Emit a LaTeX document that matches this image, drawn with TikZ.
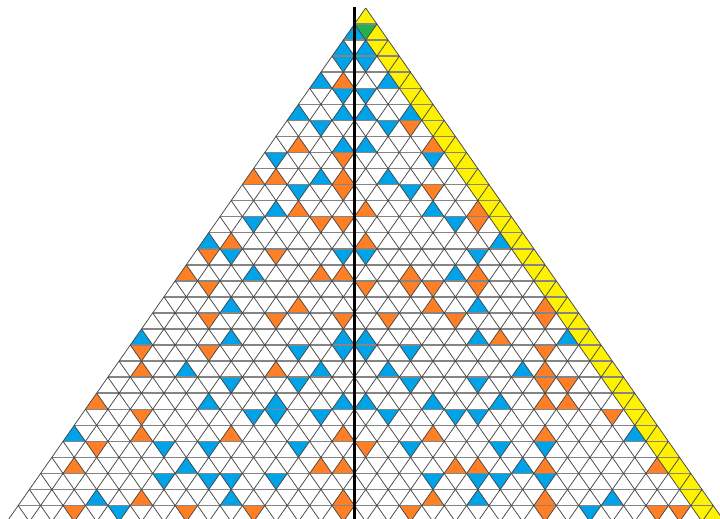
\documentclass[tikz,border=0pt]{standalone}
\definecolor{pblue}{HTML}{00A2E8}
\definecolor{porange}{HTML}{FF7F27}
\definecolor{pyellow}{HTML}{FFF200}
\definecolor{pgreen}{HTML}{22B14C}
\def\Xo{365.7}\def\Yo{8}\def\hw{11.21}\def\hh{16.05}
\newcommand\cellfill[3]{%
  \pgfmathsetmacro\Ccx{\Xo+\hw*(#2)}%
  \pgfmathsetmacro\Cyt{\Yo+\hh*((#1)-1)}%
  \pgfmathsetmacro\Cyb{\Yo+\hh*(#1)}%
  \pgfmathtruncatemacro\Corient{mod((#2)-(#1)+101,2)}%
  \ifnum\Corient=0
    \fill[#3] (\Ccx,\Cyt) -- ({\Ccx-\hw},\Cyb) -- ({\Ccx+\hw},\Cyb) -- cycle;
  \else
    \fill[#3] ({\Ccx-\hw},\Cyt) -- ({\Ccx+\hw},\Cyt) -- (\Ccx,\Cyb) -- cycle;
  \fi}
\newcommand\primefill[2]{%
  \pgfmathtruncatemacro\PCr{ceil(sqrt(#1))}%
  \pgfmathtruncatemacro\PCp{(#1)-(\PCr-1)*(\PCr-1)-\PCr}%
  \cellfill{\PCr}{\PCp}{#2}}
\tikzset{
  hline/.style={line width=1.5pt, draw=black!48},
  dline/.style={line width=0.75pt, draw=black!72},
  axisline/.style={line width=2.6pt, draw=black}
}
\begin{document}
\begin{tikzpicture}[x=1pt,y=-1pt]
\useasboundingbox (0,0) rectangle (720,519);
\clip (0,0) rectangle (720,519);
\fill[white] (0,0) rectangle (720,519);
% yellow strip
\foreach \r in {1,...,32} {\cellfill{\r}{\r-1}{pyellow}}
\foreach \r in {3,...,32} {\cellfill{\r}{\r-2}{pyellow}}
\cellfill{2}{0}{pgreen}
% blue cells
\foreach \n in {2,5,7,11,13,17,23,29,31,37,41,43,47,53,59,71,73,83,97,107,113,127,137,149,163,173,191,197,223,229,239,241,251,263,281,331,353,401,409,419,421,431,439,457,461,463,467,491,503,509,521,541,547,557,563,587,593,599,601,607,613,641,643,647,653,659,661,677,727,739,743,751,761,769,773,797,827,853,857,859,863,877,881,883,887,907,919,941,953,971,1013} {\primefill{\n}{pblue}}
% orange cells
\foreach \n in {19,61,67,79,89,101,103,109,131,139,151,157,167,179,181,193,199,211,227,233,257,269,271,277,283,293,307,311,313,317,337,349,359,367,373,379,383,389,397,433,443,449,479,487,499,523,569,571,577,617,619,631,673,683,691,701,709,719,733,757,787,809,811,821,823,829,839,911,929,937,947,967,977,983,991,997,1009,1019,1021} {\primefill{\n}{porange}}
% grid
\foreach \k in {1,...,32} {
  \draw[hline] ({\Xo-\hw*\k},{\Yo+\hh*\k}) -- ({\Xo+\hw*\k},{\Yo+\hh*\k});
}
\foreach \k in {0,...,31} {
  \draw[dline] ({\Xo+\hw*\k},{\Yo+\hh*\k}) -- ({\Xo+\hw*(2*\k-32)},{\Yo+\hh*32});
  \draw[dline] ({\Xo-\hw*\k},{\Yo+\hh*\k}) -- ({\Xo+\hw*(32-2*\k)},{\Yo+\hh*32});
}
\draw[axisline] (354.3,7) -- (354.3,519);
\end{tikzpicture}
\end{document}
